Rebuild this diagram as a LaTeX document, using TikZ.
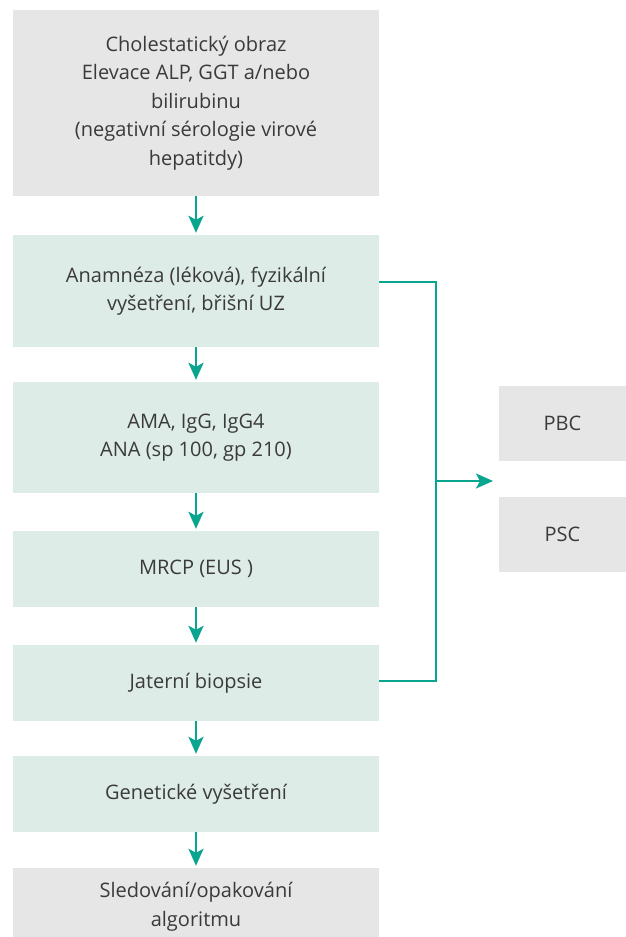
\documentclass[tikz,border=0pt]{standalone}
\usepackage{fontspec}
\setmainfont{Open Sans}
\usetikzlibrary{arrows.meta}
\definecolor{boxgray}{HTML}{E6E6E6}
\definecolor{boxteal}{HTML}{DEECE8}
\definecolor{flowteal}{HTML}{0AA58F}
\definecolor{txt}{HTML}{3A3A3A}
\tikzset{
  box/.style={inner sep=0pt, align=center, text=txt,
    font=\fontsize{20}{28.5}\selectfont},
  graybox/.style={box, fill=boxgray},
  tealbox/.style={box, fill=boxteal},
  flow/.style={draw=flowteal, line width=2.6pt},
  flowarrow/.style={flow, -{Stealth[length=17pt,width=15pt,inset=4pt]}, shorten >=2pt},
}
\begin{document}
\begin{tikzpicture}[x=1pt,y=-1pt]
  \useasboundingbox (0,0) rectangle (626,937);
  \begin{scope}
  \clip (0,0) rectangle (626,937);
  % main column
  \node[graybox, minimum width=366pt, minimum height=186pt] (b1) at (196,103)
    {Cholestatický obraz\\Elevace ALP, GGT a/nebo\\bilirubinu\\(negativní sérologie virové\\hepatitdy)};
  \node[tealbox, minimum width=366pt, minimum height=112pt] (b2) at (196,291)
    {Anamnéza (léková), fyzikální\\vyšetření, břišní UZ};
  \node[tealbox, minimum width=366pt, minimum height=111pt] (b3) at (196,437.5)
    {AMA, IgG, IgG4\\ANA (sp 100, gp 210)};
  \node[tealbox, minimum width=366pt, minimum height=76pt] (b4) at (196,569)
    {MRCP (EUS )};
  \node[tealbox, minimum width=366pt, minimum height=76pt] (b5) at (196,683)
    {Jaterní biopsie};
  \node[tealbox, minimum width=366pt, minimum height=76pt] (b6) at (196,794)
    {Genetické vyšetření};
  \node[graybox, minimum width=366pt, minimum height=77pt] (b7) at (196,906.5)
    {Sledování/opakování\\algoritmu};
  % outcomes
  \node[graybox, minimum width=127pt, minimum height=75pt] (pbc) at (562.5,423.5) {PBC};
  \node[graybox, minimum width=127pt, minimum height=75pt] (psc) at (562.5,534.5) {PSC};
  \end{scope}
  % vertical flow
  \foreach \a/\b in {b1/b2,b2/b3,b3/b4,b4/b5,b5/b6,b6/b7}
    \draw[flowarrow] (\a.south) -- (\b.north);
  % side branch
  \coordinate (j1) at (436,282);
  \coordinate (j2) at (436,681);
  \coordinate (jm) at (436,481);
  \coordinate (tip) at (493,481);
  \draw[flow] (b2.east |- j1) -- (j1) -- (j2) -- (b5.east |- j2);
  \draw[flowarrow, shorten >=0pt] (jm) -- (tip);
\end{tikzpicture}
\end{document}
